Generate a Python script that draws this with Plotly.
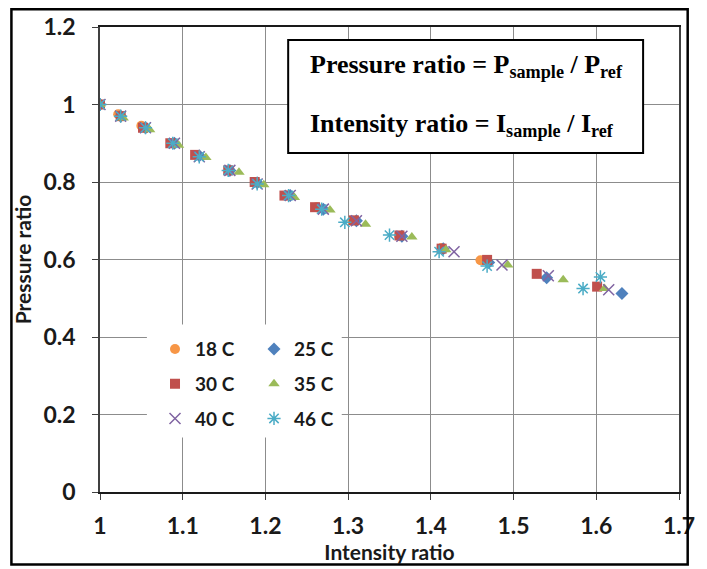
import plotly.graph_objects as go

series_names = ["18 C", "25 C", "30 C", "35 C", "40 C", "46 C"]

x_18 = [1.000, 1.022, 1.050, 1.087, 1.117, 1.157, 1.188, 1.225, 1.262, 1.305, 1.362, 1.413, 1.460]
y_18 = [1.000, 0.975, 0.945, 0.900, 0.870, 0.830, 0.800, 0.765, 0.735, 0.700, 0.660, 0.630, 0.598]

x_25 = [1.000, 1.025, 1.055, 1.090, 1.120, 1.157, 1.190, 1.230, 1.270, 1.310, 1.365, 1.415, 1.470, 1.540, 1.631]
y_25 = [1.000, 0.970, 0.940, 0.900, 0.868, 0.830, 0.798, 0.765, 0.730, 0.700, 0.660, 0.628, 0.592, 0.553, 0.512]

x_30 = [1.000, 1.025, 1.052, 1.085, 1.115, 1.155, 1.187, 1.223, 1.260, 1.307, 1.362, 1.413, 1.468, 1.528, 1.601]
y_30 = [1.000, 0.970, 0.940, 0.900, 0.870, 0.830, 0.800, 0.765, 0.735, 0.701, 0.662, 0.628, 0.599, 0.563, 0.530]

x_35 = [1.000, 1.028, 1.060, 1.095, 1.128, 1.168, 1.198, 1.235, 1.278, 1.321, 1.377, 1.418, 1.493, 1.560, 1.610]
y_35 = [1.000, 0.965, 0.935, 0.895, 0.863, 0.825, 0.793, 0.760, 0.728, 0.691, 0.658, 0.625, 0.586, 0.548, 0.525]

x_40 = [1.000, 1.025, 1.055, 1.090, 1.120, 1.157, 1.190, 1.230, 1.270, 1.310, 1.365, 1.428, 1.486, 1.542, 1.615]
y_40 = [1.000, 0.970, 0.940, 0.900, 0.865, 0.830, 0.795, 0.765, 0.730, 0.700, 0.660, 0.620, 0.586, 0.558, 0.522]

x_46 = [1.000, 1.025, 1.055, 1.088, 1.120, 1.155, 1.190, 1.228, 1.268, 1.296, 1.350, 1.410, 1.468, 1.584, 1.605]
y_46 = [1.000, 0.970, 0.940, 0.900, 0.865, 0.830, 0.795, 0.765, 0.730, 0.696, 0.663, 0.620, 0.583, 0.525, 0.555]

x_ticks = [1, 1.1, 1.2, 1.3, 1.4, 1.5, 1.6, 1.7]
x_ticklabels = ["1", "1.1", "1.2", "1.3", "1.4", "1.5", "1.6", "1.7"]
y_ticks = [0, 0.2, 0.4, 0.6, 0.8, 1.0, 1.2]
y_ticklabels = ["0", "0.2", "0.4", "0.6", "0.8", "1", "1.2"]

data = [
    (x_18, y_18, "circle", "#F79646", "legend"),
    (x_25, y_25, "diamond", "#4F81BD", "legend2"),
    (x_30, y_30, "square", "#C0504D", "legend"),
    (x_35, y_35, "triangle-up", "#9BBB59", "legend2"),
    (x_40, y_40, "x-thin-open", "#8064A2", "legend"),
    (x_46, y_46, "asterisk-open", "#4BACC6", "legend2"),
]

fig = go.Figure()
for name, (xs, ys, sym, col, lg) in zip(series_names, data):
    thin = sym.endswith("open")
    fig.add_trace(go.Scatter(
        x=xs, y=ys, mode="markers", name=name, legend=lg, legendgroup=name,
        marker=dict(symbol=sym, color=col, size=10 if not thin else 11,
                    line=dict(color=col, width=1.5 if thin else 0)),
    ))

tick_font = dict(family="Lato", size=23, color="#1a1a1a", weight="bold")
title_font = dict(family="Lato", size=21, color="#1a1a1a", weight="bold")
legend_font = dict(family="Lato", size=19, color="#1a1a1a", weight="bold")
fig.update_layout(
    width=707, height=569,
    margin=dict(l=100, r=13, t=23, b=77),
    paper_bgcolor="white", plot_bgcolor="white",
    showlegend=True,
    xaxis=dict(range=[1, 1.7], tickvals=x_ticks, ticktext=x_ticklabels,
               showgrid=True, gridcolor="#8c8c8c", gridwidth=1,
               showline=True, linecolor="#1a1a1a", linewidth=2, mirror=True,
               ticks="outside", ticklen=6, tickcolor="#404040",
               tickfont=tick_font, ticklabelstandoff=6, ticklabeloverflow="allow",
               zeroline=False,
               title=dict(text="Intensity ratio", standoff=4, font=title_font)),
    yaxis=dict(range=[0, 1.2], tickvals=y_ticks, ticktext=y_ticklabels,
               showgrid=True, gridcolor="#8c8c8c", gridwidth=1,
               showline=True, linecolor="#404040", linewidth=1.5, mirror=True,
               ticks="outside", ticklen=6, tickcolor="#404040",
               tickfont=tick_font, ticklabelstandoff=12, ticklabeloverflow="allow",
               zeroline=False,
               title=dict(text="Pressure ratio", standoff=6, font=title_font)),
    legend=dict(x=0.095, y=0.348, xanchor="left", yanchor="top",
                bgcolor="rgba(255,255,255,0)", tracegroupgap=7,
                font=legend_font, itemwidth=30),
    legend2=dict(x=0.266, y=0.348, xanchor="left", yanchor="top",
                 bgcolor="rgba(255,255,255,0)", tracegroupgap=7,
                 font=legend_font, itemwidth=30),
    shapes=[
        dict(type="rect", xref="paper", yref="paper", x0=0.081, x1=0.4175, y0=0.117, y1=0.36,
             fillcolor="white", line=dict(width=0), layer="above"),
        dict(type="rect", xref="paper", yref="paper", x0=0.325, x1=0.938, y0=0.729, y1=0.972,
             fillcolor="white", line=dict(color="black", width=2), layer="above"),
        dict(type="rect", xref="paper", yref="paper", x0=-0.153, x1=1.015, y0=-0.156, y1=1.038,
             fillcolor="rgba(0,0,0,0)", line=dict(color="black", width=2.5), layer="above"),
    ],
    annotations=[
        dict(xref="paper", yref="paper", x=0.3586, y=0.917, xanchor="left", yanchor="middle",
             showarrow=False, text="Pressure ratio = P<sub>sample</sub> / P<sub>ref</sub>",
             font=dict(family="Liberation Serif", size=26, color="black", weight="bold")),
        dict(xref="paper", yref="paper", x=0.3586, y=0.789, xanchor="left", yanchor="middle",
             showarrow=False, text="Intensity ratio = I<sub>sample</sub> / I<sub>ref</sub>",
             font=dict(family="Liberation Serif", size=26, color="black", weight="bold")),
    ],
)

fig.write_html("out.html")
